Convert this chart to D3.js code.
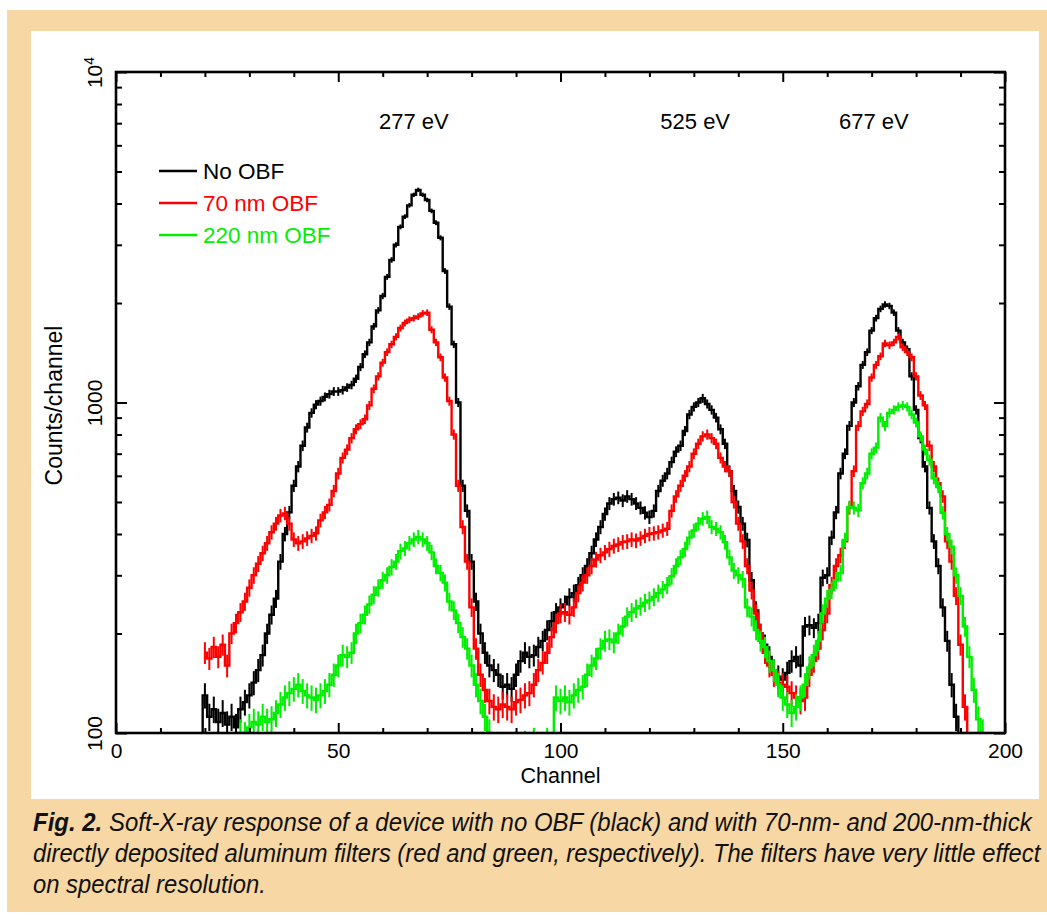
<!DOCTYPE html>
<html>
<head>
<meta charset="utf-8">
<script src="https://cdn.jsdelivr.net/npm/d3@7"></script>
<style>
html,body{margin:0;padding:0;background:#ffffff;}
svg{display:block;}
</style>
</head>
<body>
<svg id="chart" width="1047" height="921"></svg>
<script>
// ---------------- DATA ----------------
const seriesNames = ["No OBF", "70 nm OBF", "220 nm OBF"];

// counts per channel, No OBF (black), first channel 19
const noObfFirstChannel = 19;
const noObfCounts = [
  50,130,112,118,108,115,106,112,104,118,
  124,130,142,155,172,200,228,255,330,400,
  465,560,640,740,840,930,985,1010,1040,1060,
  1080,1080,1090,1110,1130,1180,1280,1400,1520,1700,
  1900,2100,2400,2700,3000,3400,3650,3950,4250,4400,
  4250,4100,3800,3500,3150,2500,1950,1500,1000,560,
  470,330,250,200,175,160,155,150,138,140,
  136,150,165,175,170,172,182,190,205,218,
  232,240,245,258,265,280,300,320,350,385,
  420,460,495,510,515,505,520,510,495,480,
  464,450,470,540,580,610,660,710,740,820,
  920,970,1000,1030,990,950,900,830,750,620,
  540,483,430,384,290,235,200,185,170,155,
  148,145,152,165,170,160,210,212,208,215,
  295,300,390,465,610,700,850,1000,1120,1300,
  1420,1650,1800,1920,1980,1960,1870,1650,1520,1450,
  1200,950,780,640,480,380,320,240,190,140,
  112,90,70
];

// counts per channel, 70 nm OBF (red), first channel 20
const obf70FirstChannel = 20;
const obf70Counts = [
  175,168,182,170,185,160,200,215,232,250,
  275,300,325,350,375,405,430,455,462,430,
  385,375,380,388,395,402,440,465,490,540,
  610,680,720,780,830,860,890,980,1100,1200,
  1320,1420,1500,1580,1680,1740,1780,1800,1820,1860,
  1870,1660,1520,1370,1190,1010,800,560,420,330,
  240,180,150,135,125,120,118,122,120,118,
  124,126,130,132,140,155,163,175,195,215,
  230,232,228,240,265,285,300,320,335,345,
  352,360,368,372,378,380,385,382,388,395,
  400,402,405,410,415,470,520,560,600,640,
  700,750,790,800,780,750,680,640,620,500,
  430,380,320,270,230,200,175,160,150,142,
  140,138,132,128,125,128,150,165,180,205,
  230,280,320,345,380,480,620,850,940,990,
  1190,1300,1380,1510,1490,1520,1580,1470,1420,1370,
  1200,1050,980,740,640,570,520,380,330,260,
  185,120,85
];

// counts per channel, 220 nm OBF (green), first channel 27
const obf220FirstChannel = 27;
const obf220Counts = [
  60,100,98,104,108,106,112,108,110,115,
  122,128,132,136,140,134,130,128,126,130,
  134,140,150,160,172,170,175,200,215,228,
  245,262,275,290,300,318,330,355,362,375,
  385,392,385,375,352,320,305,285,250,235,
  215,195,180,160,140,125,112,100,90,88,
  86,85,84,88,90,92,90,94,88,86,
  94,90,128,125,128,124,130,135,138,150,
  160,168,180,190,192,188,200,210,225,232,
  238,242,248,252,258,265,272,280,298,320,
  340,360,390,410,430,445,450,420,415,405,
  378,340,310,300,292,240,225,205,190,182,
  165,155,140,128,122,115,120,128,140,158,
  172,190,230,255,271,290,305,384,483,480,
  472,570,610,700,730,900,850,930,950,970,
  980,970,920,870,790,720,670,590,555,464,
  400,366,300,260,210,170,135,110,100,85
];

const xMajorTicks = [0, 50, 100, 150, 200];
const yMajorTicks = [100, 1000, 10000];
const peakLabels = ["277 eV", "525 eV", "677 eV"];
const peakLabelChannels = [67, 130.3, 170.5];
const xAxisTitle = "Channel";
const yAxisTitle = "Counts/channel";
const captionBold = "Fig. 2.";
const captionLines = [
  " Soft-X-ray response of a device with no OBF (black) and with 70-nm- and 200-nm-thick",
  "directly deposited aluminum filters (red and green, respectively). The filters have very little effect",
  "on spectral resolution."
];

// ---------------- STYLE / LAYOUT ----------------
const seriesColors = ["#000000", "#ff0000", "#00ee00"];
const chartFont = "'Liberation Sans', Arial, Helvetica, sans-serif";
const TAN = "#f7d7a4";

const svg = d3.select("#chart");
const plot = {left: 116, right: 1005, top: 72, bottom: 733};

// frame / background
svg.append("rect").attr("x", 0).attr("y", 0).attr("width", 1047).attr("height", 921).attr("fill", "#ffffff");
svg.append("rect").attr("x", 7).attr("y", 10).attr("width", 1040).attr("height", 902).attr("fill", TAN);
svg.append("rect").attr("x", 31).attr("y", 31).attr("width", 1008).attr("height", 768).attr("fill", "#ffffff");

const x = d3.scaleLinear().domain([0, 200]).range([plot.left, plot.right]);
const y = d3.scaleLog().domain([100, 10000]).range([plot.bottom, plot.top]);

// clip
svg.append("defs").append("clipPath").attr("id", "plotClip")
  .append("rect").attr("x", plot.left).attr("y", plot.top)
  .attr("width", plot.right - plot.left).attr("height", plot.bottom - plot.top);

// ---------------- SERIES ----------------
function toPoints(first, counts) {
  return counts.map((v, i) => ({c: first + i, v: v}));
}
const seriesData = [
  toPoints(noObfFirstChannel, noObfCounts),
  toPoints(obf70FirstChannel, obf70Counts),
  toPoints(obf220FirstChannel, obf220Counts)
];

const dataG = svg.append("g").attr("clip-path", "url(#plotClip)");
const line = d3.line()
  .x(d => x(d.c))
  .y(d => y(Math.max(d.v, 10)))
  .curve(d3.curveStep);

seriesData.forEach((pts, k) => {
  const g = dataG.append("g");
  g.append("path").datum(pts)
    .attr("d", line)
    .attr("fill", "none")
    .attr("stroke", seriesColors[k])
    .attr("stroke-width", 2.4)
    .attr("stroke-linejoin", "miter");
  g.selectAll("line.err").data(pts).join("line")
    .attr("class", "err")
    .attr("x1", d => x(d.c)).attr("x2", d => x(d.c))
    .attr("y1", d => y(d.v + Math.sqrt(d.v)))
    .attr("y2", d => y(Math.max(d.v - Math.sqrt(d.v), 10)))
    .attr("stroke", seriesColors[k])
    .attr("stroke-width", 2);
});

// ---------------- AXES ----------------
const xMinor = d3.range(0, 201, 10).filter(v => xMajorTicks.indexOf(v) < 0);
const yMinor = [];
[100, 1000].forEach(b => { for (let m = 2; m <= 9; m++) yMinor.push(b * m); });

function styleAxis(g) {
  g.select(".domain").remove();
  g.selectAll(".tick line").attr("stroke", "#000").attr("stroke-width", 2);
  g.selectAll("text").attr("font-family", chartFont).attr("font-size", 21).attr("fill", "#000");
}

// bottom
svg.append("g").attr("transform", `translate(0,${plot.bottom})`)
  .call(d3.axisBottom(x).tickValues(xMinor).tickSize(-5).tickFormat(""))
  .call(styleAxis);
svg.append("g").attr("transform", `translate(0,${plot.bottom})`)
  .call(d3.axisBottom(x).tickValues(xMajorTicks).tickSize(-10).tickPadding(10).tickFormat(d3.format("d")))
  .call(styleAxis);
// top
svg.append("g").attr("transform", `translate(0,${plot.top})`)
  .call(d3.axisTop(x).tickValues(xMinor).tickSize(-5).tickFormat(""))
  .call(styleAxis);
svg.append("g").attr("transform", `translate(0,${plot.top})`)
  .call(d3.axisTop(x).tickValues(xMajorTicks).tickSize(-10).tickFormat(""))
  .call(styleAxis);
// left
svg.append("g").attr("transform", `translate(${plot.left},0)`)
  .call(d3.axisLeft(y).tickValues(yMinor).tickSize(-6).tickFormat(""))
  .call(styleAxis);
const yLeft = svg.append("g").attr("transform", `translate(${plot.left},0)`)
  .call(d3.axisLeft(y).tickValues(yMajorTicks).tickSize(-11).tickFormat(d => d === 10000 ? "10" : String(d)))
  .call(styleAxis);
yLeft.selectAll(".tick text")
  .attr("x", null).attr("dy", null)
  .attr("text-anchor", "middle")
  .attr("transform", "translate(-14,0) rotate(-90)")
  .each(function(d) {
    if (d === 10000) {
      d3.select(this).append("tspan").attr("font-size", 14).attr("dy", -8).text("4");
    }
  });
// right
svg.append("g").attr("transform", `translate(${plot.right},0)`)
  .call(d3.axisRight(y).tickValues(yMinor).tickSize(-6).tickFormat(""))
  .call(styleAxis);
svg.append("g").attr("transform", `translate(${plot.right},0)`)
  .call(d3.axisRight(y).tickValues(yMajorTicks).tickSize(-11).tickFormat(""))
  .call(styleAxis);

// plot frame
svg.append("rect")
  .attr("x", plot.left).attr("y", plot.top)
  .attr("width", plot.right - plot.left).attr("height", plot.bottom - plot.top)
  .attr("fill", "none").attr("stroke", "#000").attr("stroke-width", 2.6);

// axis titles
svg.append("text")
  .attr("x", (plot.left + plot.right) / 2).attr("y", 783)
  .attr("text-anchor", "middle")
  .attr("font-family", chartFont).attr("font-size", 21.5)
  .text(xAxisTitle);
svg.append("text")
  .attr("transform", `translate(62,${y(1000) + 3}) rotate(-90)`)
  .attr("text-anchor", "middle")
  .attr("font-family", chartFont).attr("font-size", 23)
  .text(yAxisTitle);

// peak annotations
svg.append("g").selectAll("text").data(peakLabels).join("text")
  .attr("x", (d, i) => x(peakLabelChannels[i]))
  .attr("y", y(6700))
  .attr("text-anchor", "middle")
  .attr("font-family", chartFont).attr("font-size", 22)
  .text(d => d);

// legend
const legend = svg.append("g").attr("transform", "translate(159,171)");
seriesNames.forEach((name, i) => {
  const row = legend.append("g").attr("transform", `translate(0,${i * 32})`);
  row.append("line").attr("x1", 0).attr("x2", 38).attr("y1", 0).attr("y2", 0)
    .attr("stroke", seriesColors[i]).attr("stroke-width", 2.4);
  row.append("text").attr("x", 44).attr("y", 7.5)
    .attr("font-family", chartFont).attr("font-size", 22.5)
    .attr("fill", seriesColors[i])
    .text(name);
});

// caption (condensed italic by horizontal scaling)
const capWidths = [999, 1008, 233];
const capBaselines = [831, 862, 893];
captionLines.forEach((txt, i) => {
  const t = svg.append("text")
    .attr("x", 0).attr("y", 0)
    .attr("font-family", chartFont).attr("font-size", 25)
    .attr("font-style", "italic").attr("fill", "#111");
  if (i === 0) {
    t.append("tspan").attr("font-weight", "bold").text(captionBold);
  }
  t.append("tspan").text(txt);
  const w = t.node().getComputedTextLength();
  t.attr("transform", `translate(33,${capBaselines[i]}) scale(${capWidths[i] / w},1)`);
});
</script>
</body>
</html>
